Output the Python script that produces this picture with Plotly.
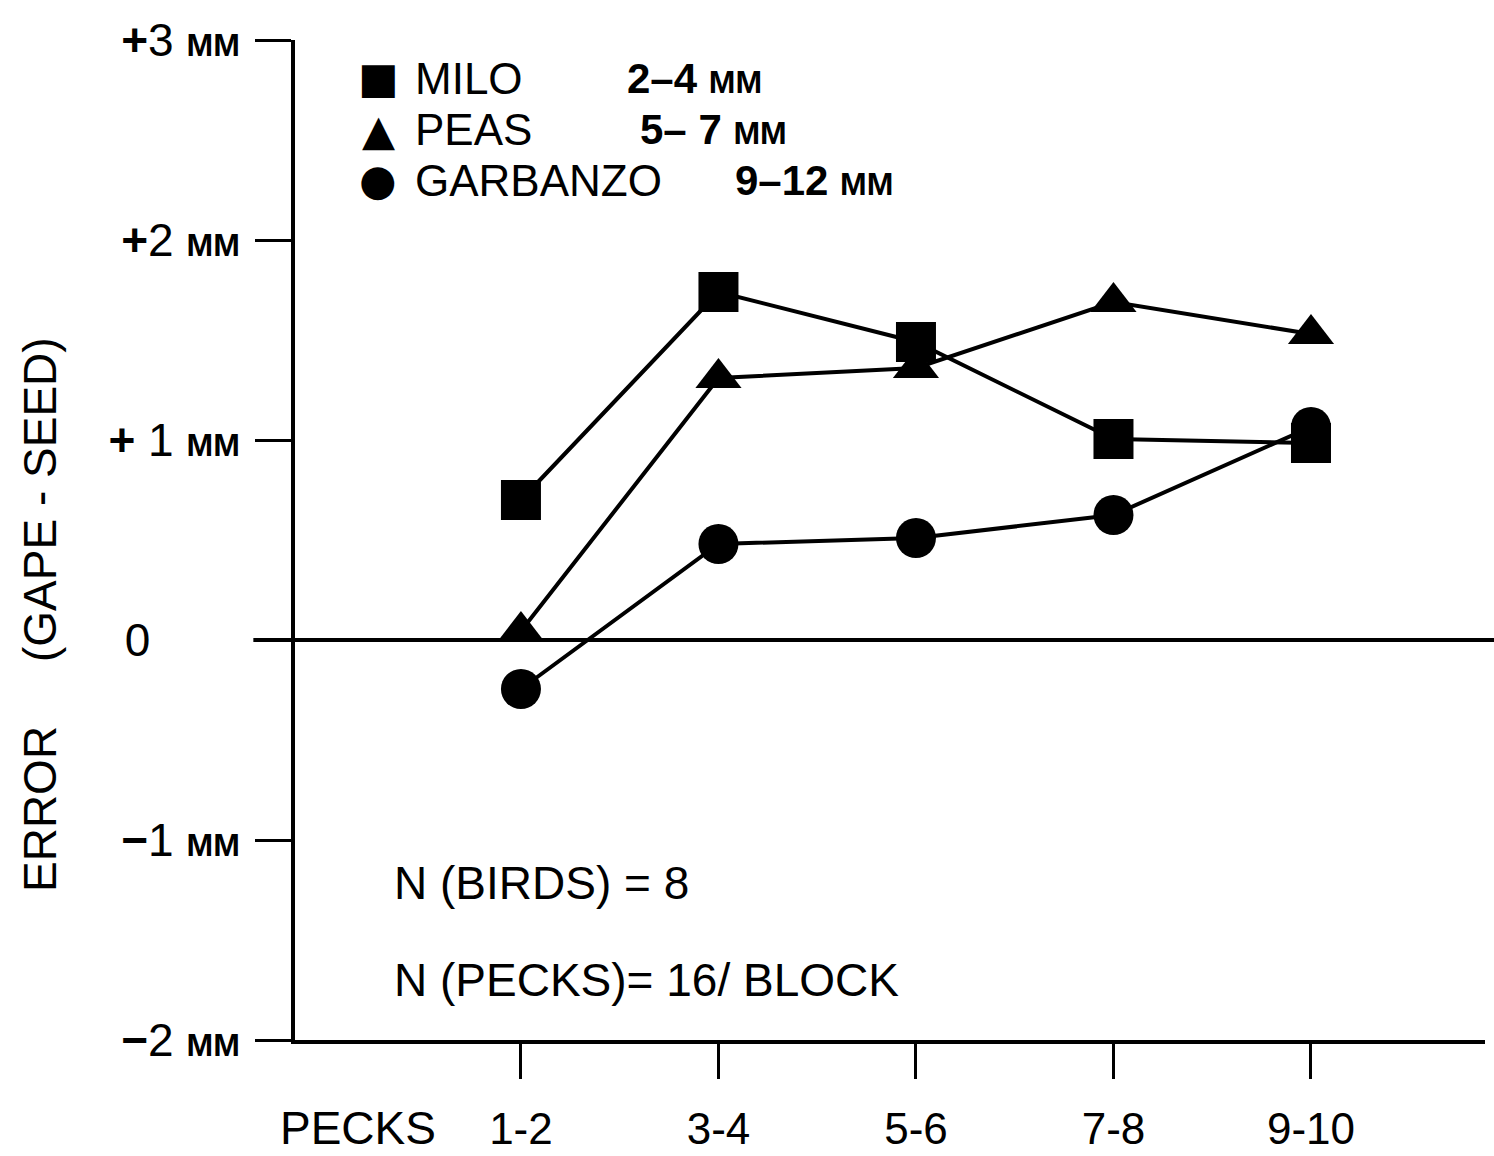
import plotly.graph_objects as go

blocks = ["1-2", "3-4", "5-6", "7-8", "9-10"]
milo = [0.70, 1.74, 1.49, 1.005, 0.985]
peas = [0.045, 1.31, 1.36, 1.69, 1.53]
garbanzo = [-0.245, 0.48, 0.51, 0.625, 1.065]

y_tickvals = [-2, -1, 0, 1, 2, 3]
y_ticktext = [
    "<b>\u2212</b>2 <b><span style='font-size:32px'>MM</span></b>",
    "<b>\u2212</b>1 <b><span style='font-size:32px'>MM</span></b>",
    "0" + "&nbsp;" * 7,
    "<b>+</b> 1 <b><span style='font-size:32px'>MM</span></b>",
    "<b>+</b>2 <b><span style='font-size:32px'>MM</span></b>",
    "<b>+</b>3 <b><span style='font-size:32px'>MM</span></b>",
]

legend_names = ["MILO", "PEAS", "GARBANZO"]
legend_sizes = ["2\u20134", "5\u2013 7", "9\u201312"]
legend_glyphs = ["\u25A0", "\u25B2", "\u25CF"]
legend_glyph_sizes = [43, 43, 43]

FONT = "Liberation Sans, Arial, sans-serif"

fig = go.Figure()
series = [(milo, "square", 40, "MILO"), (peas, "triangle-up", 40, "PEAS"), (garbanzo, "circle", 40, "GARBANZO")]
for vals, sym, sz, name in series:
    fig.add_trace(go.Scatter(
        x=blocks, y=vals, mode="lines+markers", name=name,
        line=dict(color="black", width=4),
        marker=dict(symbol=sym, size=sz, color="black", line=dict(width=0)),
        showlegend=False, cliponaxis=False,
    ))

annotations = []
row_y = [78, 130, 180]
size_x = [625, 638, 733]
for i in range(3):
    annotations.append(dict(text=legend_glyphs[i], x=378, y=row_y[i], xref="paper", yref="paper",
                            showarrow=False, xanchor="center", yanchor="middle",
                            font=dict(family="DejaVu Sans", size=legend_glyph_sizes[i], color="black")))
    annotations.append(dict(text=legend_names[i], x=413, y=row_y[i], xref="paper", yref="paper",
                            showarrow=False, xanchor="left", yanchor="middle",
                            font=dict(family=FONT, size=44, color="black")))
    annotations.append(dict(text="<b>" + legend_sizes[i] + " <span style='font-size:32px'>MM</span></b>",
                            x=size_x[i], y=row_y[i], xref="paper", yref="paper",
                            showarrow=False, xanchor="left", yanchor="middle",
                            font=dict(family=FONT, size=42, color="black")))

annotations += [
    dict(text="N (BIRDS) = 8", x=392, y=883, xanchor="left", yanchor="middle"),
    dict(text="N (PECKS)= 16/ BLOCK", x=392, y=980, xanchor="left", yanchor="middle"),
    dict(text="PECKS", x=358, y=1128, xanchor="center", yanchor="middle"),
    dict(text="ERROR &nbsp;&nbsp;&nbsp;&nbsp;(GAPE - SEED)", x=40, y=615, xanchor="center", yanchor="middle", textangle=-90),
]
for a in annotations[-4:]:
    a.update(xref="paper", yref="paper", showarrow=False,
             font=dict(family=FONT, size=46, color="black"))

# convert pixel positions to paper coordinates
L, R, T, B = 295, 1485, 40, 1040
for a in annotations:
    a["x"] = (a["x"] - L) / (R - L)
    a["y"] = (B - a["y"]) / (B - T)

fig.update_layout(
    width=1494, height=1156,
    margin=dict(l=L, r=1494 - R, t=T, b=1156 - B, autoexpand=False),
    paper_bgcolor="white", plot_bgcolor="white",
    annotations=annotations,
    xaxis=dict(
        type="category", categoryorder="array", categoryarray=blocks,
        range=[-1.144, 4.881], showgrid=False, zeroline=False, automargin=False,
        showline=True, linecolor="black", linewidth=4,
        ticks="outside", ticklen=35, tickwidth=3, tickcolor="black",
        tickfont=dict(family=FONT, size=44, color="black"),
        ticklabelstandoff=12,
    ),
    yaxis=dict(
        range=[-2, 3], tickvals=y_tickvals, ticktext=y_ticktext, automargin=False,
        showgrid=False, zeroline=True, zerolinecolor="black", zerolinewidth=4,
        showline=True, linecolor="black", linewidth=4,
        ticks="outside", ticklen=36, tickwidth=3, tickcolor="black",
        tickfont=dict(family=FONT, size=46, color="black"),
        ticklabelstandoff=6,
    ),
)
fig.add_shape(type="line", xref="paper", yref="y", x0=-0.035, x1=1.01, y0=0, y1=0,
              line=dict(color="black", width=4), layer="below")

fig.write_html("out.html")
